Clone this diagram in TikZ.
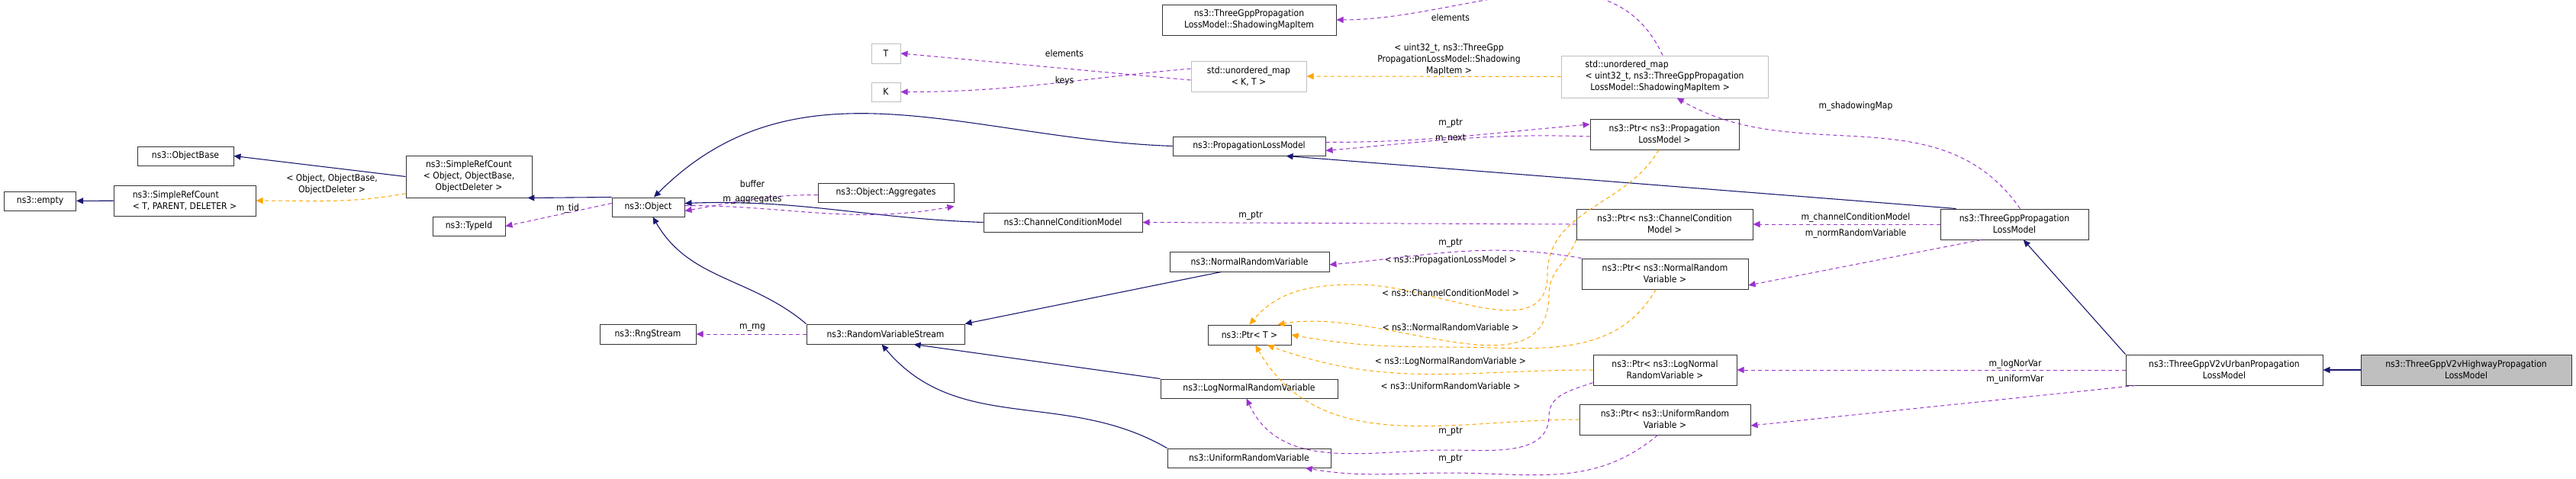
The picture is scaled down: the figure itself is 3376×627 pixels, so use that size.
\documentclass[tikz,border=0pt]{standalone}
\usepackage{fontspec}
\setmainfont{DejaVu Sans Condensed}
\usetikzlibrary{arrows.meta}
\definecolor{inhblue}{HTML}{191970}
\definecolor{usepurple}{HTML}{9A32CD}
\definecolor{tplorange}{HTML}{FFA500}
\definecolor{boxgray}{HTML}{BFBFBF}
\begin{document}
\begin{tikzpicture}[x=1pt, y=-1pt,
    font=\fontsize{12}{15}\selectfont,
    cls/.style={draw=black!80, line width=1pt, inner sep=2pt, align=center, fill=white},
    tpl/.style={draw=boxgray, line width=1pt, inner sep=2pt, align=center, fill=white},
    inh/.style={draw=inhblue, line width=1.1pt, -{Triangle[length=9pt,width=8pt]}},
    usg/.style={draw=usepurple, line width=1pt, dash pattern=on 5pt off 4pt, -{Triangle[length=9pt,width=8pt]}},
    ins/.style={draw=tplorange, line width=1pt, dash pattern=on 5pt off 4pt, -{Triangle[length=9pt,width=8pt]}},
    lbl/.style={inner sep=0pt, align=center}]
                \useasboundingbox (0,0) rectangle (3376,627);
                % classes
                \node[cls, minimum width=94, minimum height=25] (empty) at (52.6,263.5) {ns3::empty};
                \node[cls, minimum width=186, minimum height=40, align=left] (srcT) at (242,263) {ns3::SimpleRefCount\\< T, PARENT, DELETER >};
                \node[cls, minimum width=126, minimum height=25] (objbase) at (243,204.5) {ns3::ObjectBase};
                \node[cls, minimum width=165, minimum height=55] (srcObj) at (614.5,231.5) {ns3::SimpleRefCount\\< Object, ObjectBase,\\ObjectDeleter >};
                \node[cls, minimum width=95, minimum height=25] (typeid) at (614.5,296.5) {ns3::TypeId};
                \node[cls, minimum width=95, minimum height=25] (object) at (849.5,271.5) {ns3::Object};
                \node[cls, minimum width=126, minimum height=26] (rng) at (849,438) {ns3::RngStream};
                \node[cls, minimum width=178, minimum height=25] (aggr) at (1161,252.5) {ns3::Object::Aggregates};
                \node[cls, minimum width=207, minimum height=26] (rvs) at (1160.5,438) {ns3::RandomVariableStream};
                \node[tpl, minimum width=38, minimum height=26] (tT) at (1161,70) {T};
                \node[tpl, minimum width=38, minimum height=25] (tK) at (1161,120.5) {K};
                \node[tpl, minimum width=151, minimum height=40] (umapKT) at (1636.5,100) {std::unordered\_map\\< K, T >};
                \node[cls, minimum width=228, minimum height=40] (smItem) at (1637,26) {ns3::ThreeGppPropagation\\LossModel::ShadowingMapItem};
                \node[cls, minimum width=200, minimum height=25] (plm) at (1637,191.5) {ns3::PropagationLossModel};
                \node[cls, minimum width=208, minimum height=25] (ccm) at (1393,291.5) {ns3::ChannelConditionModel};
                \node[cls, minimum width=209, minimum height=26] (nrv) at (1637.5,343) {ns3::NormalRandomVariable};
                \node[cls, minimum width=109, minimum height=26] (ptrT) at (1637.5,439) {ns3::Ptr< T >};
                \node[cls, minimum width=232, minimum height=25] (lnrv) at (1637,509.5) {ns3::LogNormalRandomVariable};
                \node[cls, minimum width=214, minimum height=25] (urv) at (1637,600.5) {ns3::UniformRandomVariable};
                \node[tpl, minimum width=271, minimum height=55, align=left] (umapBig) at (2181.5,100.5) {std::unordered\_map\\< uint32\_t, ns3::ThreeGppPropagation\\\ \ LossModel::ShadowingMapItem >};
                \node[cls, minimum width=195, minimum height=40] (ptrPLM) at (2181.5,176) {ns3::Ptr< ns3::Propagation\\LossModel >};
                \node[cls, minimum width=231, minimum height=40] (ptrCCM) at (2181.5,294) {ns3::Ptr< ns3::ChannelCondition\\Model >};
                \node[cls, minimum width=218, minimum height=40] (ptrNRV) at (2182,359) {ns3::Ptr< ns3::NormalRandom\\Variable >};
                \node[cls, minimum width=188, minimum height=40] (ptrLN) at (2182,485) {ns3::Ptr< ns3::LogNormal\\RandomVariable >};
                \node[cls, minimum width=224, minimum height=40] (ptrU) at (2182,550) {ns3::Ptr< ns3::UniformRandom\\Variable >};
                \node[cls, minimum width=194, minimum height=40] (tgplm) at (2640,294) {ns3::ThreeGppPropagation\\LossModel};
                \node[cls, minimum width=258, minimum height=40] (urban) at (2915,485) {ns3::ThreeGppV2vUrbanPropagation\\LossModel};
                \node[cls, minimum width=276, minimum height=40, fill=boxgray] (highway) at (3232,485) {ns3::ThreeGppV2vHighwayPropagation\\LossModel};
                % inheritance
                \draw[inh] (srcT) -- (empty);
                \draw[inh] (srcObj.west) -- (objbase.east);
                \draw[inh] (object.north west) -- (srcObj.-20);
                \draw[inh] (plm.west) to[out=178,in=45] (object.60);
                \draw[inh] (ccm.west) to[out=178,in=2] ([yshift=5pt]object.east);
                \draw[inh] (rvs.north west) to[out=140,in=-60] (object.-65);
                \draw[inh] (nrv.-160) -- (rvs.north east);
                \draw[inh] (lnrv.north west) -- (rvs.-20);
                \draw[inh] (urv.north west) to[out=150,in=-50] (rvs.-110);
                \draw[inh] (tgplm.165) -- (plm.-15);
                \draw[inh] (urban.north west) -- (tgplm.-60);
                \draw[inh] (highway) -- (urban);
                % template instances
                \draw[ins] (srcObj.-165) to[out=190,in=0] (srcT.east);
                \node[lbl] (lSrc) at (435,242) {< Object, ObjectBase,\\ObjectDeleter >};
                \draw[ins] (umapBig.west) -- (umapKT.east);
                \node[lbl] (lMap) at (1899,78) {< uint32\_t, ns3::ThreeGpp\\PropagationLossModel::Shadowing\\MapItem >};
                \draw[ins] (ptrPLM.-110) to[out=-120,in=90] (2028,360) to[out=-90,in=0] (1780,373) to[out=180,in=50] (ptrT.north);
                \node[lbl] (lPlm) at (1901,341) {< ns3::PropagationLossModel >};
                \draw[ins] (ptrCCM.south west) to[out=-110,in=90] (2030,385) to[out=-90,in=10] (ptrT.20);
                \node[lbl] (lCcm) at (1901,384) {< ns3::ChannelConditionModel >};
                \draw[ins] (ptrNRV.-120) to[out=-120,in=0] (1900,455) to[out=180,in=-10] (ptrT.east);
                \node[lbl] (lNrv) at (1901,429) {< ns3::NormalRandomVariable >};
                \draw[ins] (ptrLN.west) to[out=180,in=-20] (ptrT.-30);
                \node[lbl] (lLn) at (1901,474) {< ns3::LogNormalRandomVariable >};
                \draw[ins] (ptrU.west) to[out=180,in=-60] (ptrT.-60);
                \node[lbl] (lU) at (1901,506) {< ns3::UniformRandomVariable >};
                % members
                \draw[usg] ([yshift=5pt]object.west) -- (typeid.east);
                \node[lbl] (lTid) at (744,273) {m\_tid};
                \draw[usg] ([yshift=-3pt]aggr.west) to[out=180,in=10] ([yshift=-5pt]object.east);
                \node[lbl] (lBuf) at (986,241) {buffer};
                \draw[usg] ([yshift=2pt]object.east) to[out=0,in=190] ([yshift=-5pt]aggr.east|-aggr.south) ;
                \node[lbl] (lAgg) at (986,262) {m\_aggregates};
                \draw[usg] (rvs.west) -- (rng.east);
                \node[lbl] (lRng) at (986,430) {m\_rng};
                \draw[usg] ([yshift=-5pt]umapKT.west) -- (tT.east);
                \node[lbl] (lEl) at (1395,70) {elements};
                \draw[usg] ([yshift=10pt]umapKT.west) to[out=185,in=0] (tK.east);
                \node[lbl] (lKeys) at (1395,106) {keys};
                \draw[usg] (umapBig.95) to[out=115,in=0] (smItem.east);
                \node[lbl] (lEl2) at (1901,23) {elements};
                \draw[usg] ([yshift=-3pt]ptrPLM.west) to[out=178,in=5] ([yshift=-6pt]plm.east);
                \node[lbl] (lPtr1) at (1901,162) {m\_ptr};
                \draw[usg] ([yshift=5pt]plm.east) to[out=0,in=185] ([yshift=13pt]ptrPLM.west);
                \node[lbl] (lNext) at (1901,182) {m\_next};
                \draw[usg] (ptrCCM.west) -- (ccm.east);
                \node[lbl] (lPtr2) at (1639,283) {m\_ptr};
                \draw[usg] (ptrNRV.north west) to[out=170,in=5] ([yshift=-4pt]nrv.east);
                \node[lbl] (lPtr3) at (1901,319) {m\_ptr};
                \draw[usg] (ptrLN.-170) to[out=200,in=90] (2030,545) to[out=-90,in=0] (1900,590) to[out=180,in=-65] (lnrv.-105);
                \node[lbl] (lPtr4) at (1901,566) {m\_ptr};
                \draw[usg] (ptrU.-115) to[out=-140,in=0] (1900,620) to[out=180,in=-10] (urv.-10);
                \node[lbl] (lPtr5) at (1901,602) {m\_ptr};
                \draw[usg] (tgplm.70) to[out=125,in=-30] (umapBig.-60);
                \node[lbl] (lSh) at (2432,139) {m\_shadowingMap};
                \draw[usg] (tgplm.west) -- (ptrCCM.east);
                \node[lbl] (lCcmM) at (2432,285) {m\_channelConditionModel};
                \draw[usg] (tgplm.-155) -- ([yshift=-15pt]ptrNRV.east);
                \node[lbl] (lNrvM) at (2432,306) {m\_normRandomVariable};
                \draw[usg] (urban.west) -- (ptrLN.east);
                \node[lbl] (lLog) at (2641,477) {m\_logNorVar};
                \draw[usg] (urban.-170) -- ([yshift=-8pt]ptrU.east);
                \node[lbl] (lUni) at (2641,497) {m\_uniformVar};
            \end{tikzpicture}
\end{document}
